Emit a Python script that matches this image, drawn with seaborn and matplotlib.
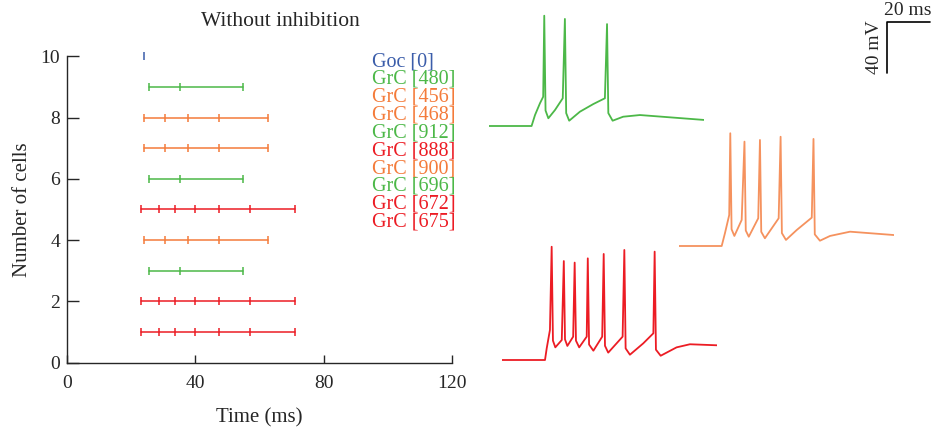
import pandas as pd
import matplotlib
matplotlib.use("Agg")
import matplotlib.pyplot as plt
import seaborn as sns

# raster data (rows from top: 10 -> 1)
cells = ["Goc [0]", "GrC [480]", "GrC [456]", "GrC [468]", "GrC [912]",
         "GrC [888]", "GrC [900]", "GrC [696]", "GrC [672]", "GrC [675]"]
cell_rows = [10, 9, 8, 7, 6, 5, 4, 3, 2, 1]
cell_kind = ["goc", "green", "orange", "orange", "green",
             "red", "orange", "green", "red", "red"]

goc_spikes = [23.9]
green_spikes = [25.7, 35.2, 54.8]
orange_spikes = [23.9, 30.5, 37.7, 47.3, 62.6]
red_spikes = [23.1, 28.75, 33.8, 39.9, 47.3, 56.9, 71.0]

x_ticks = [0, 40, 80, 120]
y_ticks = [0, 2, 4, 6, 8, 10]

# membrane potential traces (ms, mV)
green_t = [0, 19.8, 21.4, 23.7, 25.2, 25.7, 26.3, 27.6, 30.7, 34.3, 35.3, 35.9, 37.3,
           42.3, 48.5, 53.9, 54.9, 55.5, 57.5, 62.4, 70.2, 100]
green_v = [-70, -70, -61.5, -52.4, -47.3, 15.5, -58, -64, -57.6, -48.5, 13, -60, -65.9,
           -58.9, -53, -48.5, 9, -60, -65.9, -62.8, -61.5, -65.3]

orange_t = [0, 19.9, 21.4, 23.4, 23.9, 24.5, 25.8, 29.2, 30.5, 31.1, 32.5, 36.9, 37.7,
            38.3, 40.0, 46.4, 47.3, 47.9, 49.8, 54.8, 61.8, 62.6, 63.2, 65.6, 70.3, 79.6, 100]
orange_v = [-70, -70, -60.2, -46, 17.4, -57, -62.2, -49.8, 10.9, -58, -62.8, -48.5, 12.2,
            -59, -64, -48.5, 14.7, -60, -65.3, -57.6, -48, 13, -61, -65.9, -62.2, -58.9, -61.5]

red_t = [0, 20.0, 20.8, 22.3, 23.1, 23.7, 24.8, 27.8, 28.75, 29.3, 30.4, 33.1, 33.8, 34.4,
         35.9, 39.4, 39.9, 40.5, 42.5, 46.6, 47.3, 47.9, 49.4, 56.1, 56.9, 57.5, 59.5, 65.7,
         70.4, 71.0, 71.6, 73.8, 81.2, 87.4, 100]
red_v = [-70, -70, -60.9, -46.7, 17.8, -55, -60.2, -54.5, 6.7, -54, -59.1, -51.9, 5.5, -55,
         -60.2, -51.9, 8.8, -58, -62.8, -51.9, 12.2, -59, -64.3, -51.9, 15.3, -61, -65.9, -57.1,
         -49.3, 14, -62, -66.7, -60.2, -57.8, -58.6]

palette = {"goc": "#3b5daa", "green": "#4cb848", "orange": "#f47b3a", "red": "#ec1c24"}
trace_colors = {"green": "#4cb848", "orange": "#f5925e", "red": "#ec1c24"}
spikes_by_kind = {"goc": goc_spikes, "green": green_spikes,
                  "orange": orange_spikes, "red": red_spikes}

sns.set_style("ticks")
plt.rcParams["font.family"] = ["Liberation Serif", "DejaVu Serif"]

W, H = 938, 429
fig = plt.figure(figsize=(W / 100, H / 100), dpi=100)


def rect(x0, y_top, w, h):
    return [x0 / W, 1 - (y_top + h) / H, w / W, h / H]


# raster
rows = []
for name, r, k in zip(cells, cell_rows, cell_kind):
    for t in spikes_by_kind[k]:
        rows.append({"cell": name, "row": r, "kind": k, "time": t})
df = pd.DataFrame(rows)

ax = fig.add_axes(rect(67, 56.5, 385, 306))
for name, k in zip(cells, cell_kind):
    sub = df[df["cell"] == name]
    sns.lineplot(data=sub, x="time", y="row", ax=ax, estimator=None, sort=False,
                 color=palette[k], marker="|", markersize=5.5, markeredgewidth=1.1,
                 markeredgecolor=palette[k], linewidth=1.1, clip_on=False, legend=False)

ax.set_xlim(0, 120)
ax.set_ylim(0, 10)
ax.set_xticks(x_ticks)
ax.set_yticks(y_ticks)
ax.tick_params(axis="y", direction="in", length=8.5, width=1, labelsize=14, pad=5)
ax.tick_params(axis="x", direction="in", length=6, width=1, labelsize=14, pad=9)
for s in ["left", "bottom"]:
    ax.spines[s].set_linewidth(1)
sns.despine(ax=ax)
ax.set_xlabel("Time (ms)", fontsize=15, labelpad=12)
ax.set_ylabel("Number of cells", fontsize=15, labelpad=6)
fig.text(280 / W, 1 - 22 / H, "Without inhibition", fontsize=15.5,
         ha="center", va="center")

for i, (name, k) in enumerate(zip(cells, cell_kind)):
    fig.text(372 / W, 1 - (61.5 + 17.85 * i) / H, name, color=palette[k],
             fontsize=14.5, va="center", ha="left")

# voltage traces: 2.15 px per ms, 1.29 px per mV
px_ms, px_mv = 2.15, 1.29
traces = [("green", green_t, green_v, 489.0, 126),
          ("orange", orange_t, orange_v, 678.9, 246),
          ("red", red_t, red_v, 502.0, 360)]
for k, t, v, x0, rest_y in traces:
    top = rest_y - 90 * px_mv
    tax = fig.add_axes(rect(x0, top, 100 * px_ms, 95 * px_mv))
    sns.lineplot(x=t, y=v, ax=tax, estimator=None, sort=False,
                 color=trace_colors[k], linewidth=1.3)
    tax.set_xlim(0, 100)
    tax.set_ylim(-75, 20)
    tax.axis("off")

# scale bar
sax = fig.add_axes(rect(886.7, 21.7, 20 * px_ms, 40 * px_mv))
sax.plot([0, 0, 20], [0, 40, 40], color="black", linewidth=1.2, clip_on=False)
sax.set_xlim(0, 20)
sax.set_ylim(0, 40)
sax.axis("off")
sax.text(10, 42, "20 ms", ha="center", va="bottom", fontsize=14)
sax.text(-1.5, 20, "40 mV", ha="right", va="center", rotation=90, fontsize=14)

fig.savefig("out.png", dpi=100)
